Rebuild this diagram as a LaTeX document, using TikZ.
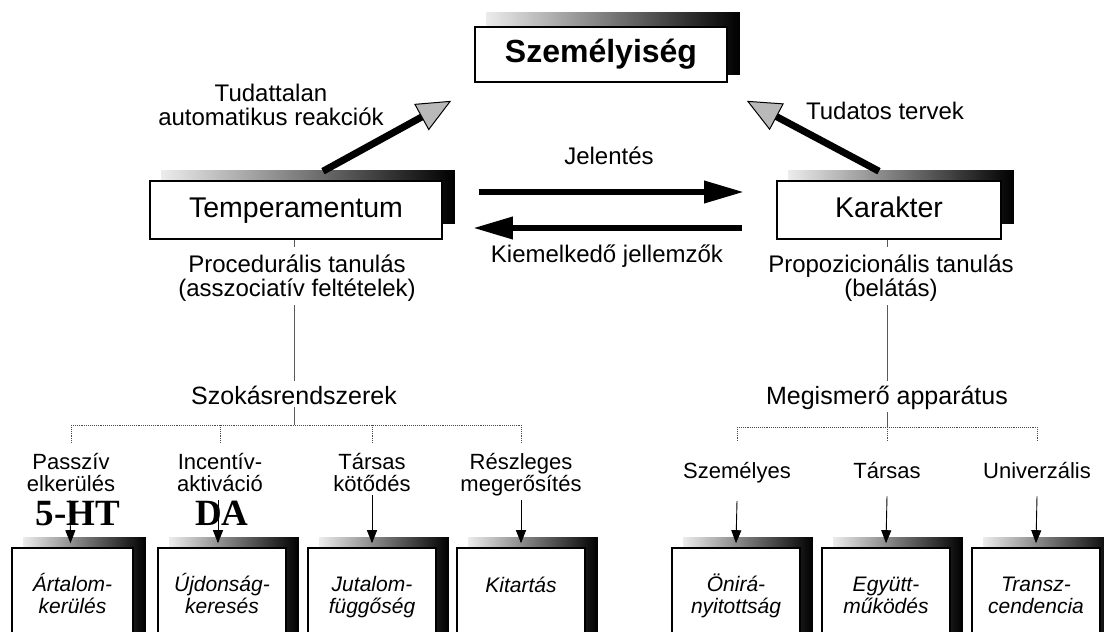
\documentclass[tikz,border=0pt]{standalone}
\usepackage{fontspec}
\setmainfont{Liberation Sans}
\newfontfamily\serifb{Liberation Serif}
\usetikzlibrary{arrows.meta,backgrounds}
\begin{document}
\begin{tikzpicture}[x=1pt,y=-1pt,
  box/.style={draw,line width=1.6pt,fill=white,inner sep=0pt},
  smallbox/.style={box,minimum width=128pt,minimum height=100pt},
  boxtext/.style={font=\fontsize{21}{21.5}\selectfont\itshape,align=center,anchor=base,inner sep=0pt},
  lbl/.style={font=\fontsize{24}{23.5}\selectfont,align=center,anchor=base,inner sep=0pt},
  head/.style={font=\fontsize{25}{26}\selectfont,align=center,anchor=base,inner sep=0pt},
  sublbl/.style={font=\fontsize{22}{22}\selectfont,align=center,anchor=base,inner sep=0pt},
  nt/.style={font=\fontsize{37}{37}\selectfont\serifb\bfseries,anchor=base,inner sep=0pt},
  shadowfill/.style={left color=gray!15,right color=black},
  bigarrow/.style={line width=7pt,-{Triangle[length=34pt,width=30pt,line width=1pt,fill=gray!55]}},
  flatarrow/.style={line width=6.5pt,-{Triangle[length=40pt,width=21pt]}},
  thinline/.style={line width=0.8pt,gray!70!black},
  dotline/.style={line width=0.9pt,densely dotted,gray!60!black},
  downarrow/.style={line width=0.9pt,-{Triangle[length=13pt,width=10pt]}}
]
\useasboundingbox (0,0) rectangle (1104,632);
\clip (0,0) rectangle (1104,632);

% main boxes
\node[box,minimum width=252pt,minimum height=55pt,font=\fontsize{32}{36}\selectfont\bfseries] (pers) at (601,54.5) {Személyiség};
\node[box,minimum width=292pt,minimum height=58pt,font=\fontsize{28.5}{34}\selectfont,text height=20pt,text depth=6pt] (temp) at (296,210) {Temperamentum};
\node[box,minimum width=224pt,minimum height=58pt,font=\fontsize{28.5}{34}\selectfont,text height=20pt,text depth=6pt] (kar) at (889,210) {Karakter};

% bottom boxes
\node[smallbox,minimum width=121pt] (b1) at (72.5,598) {};
\node[smallbox] (b2) at (222,598) {};
\node[smallbox] (b3) at (372,598) {};
\node[smallbox] (b4) at (521,598) {};
\node[smallbox] (b5) at (736,598) {};
\node[smallbox] (b6) at (886,598) {};
\node[smallbox] (b7) at (1036,598) {};

\node[boxtext] (t1) at (72.5,613) {Ártalom-\\kerülés};
\node[boxtext] (t2) at (222,613) {Újdonság-\\keresés};
\node[boxtext] (t3) at (372,613) {Jutalom-\\függőség};
\node[boxtext] (t4) at (521,592) {Kitartás};
\node[boxtext] (t5) at (736,613) {Önirá-\\nyitottság};
\node[boxtext] (t6) at (886,613) {Együtt-\\működés};
\node[boxtext] (t7) at (1036,613) {Transz-\\cendencia};

% shadows
\begin{scope}[on background layer]
  \shade[shadowfill] ([xshift=12pt,yshift=14pt]pers.north west) rectangle ([xshift=12pt,yshift=8pt]pers.south east);
  \shade[shadowfill] ([xshift=12pt,yshift=10pt]temp.north west) rectangle ([xshift=12pt,yshift=16pt]temp.south east);
  \shade[shadowfill] ([xshift=12pt,yshift=10pt]kar.north west) rectangle ([xshift=12pt,yshift=16pt]kar.south east);
  \foreach \b in {b1,b2,b3,b4,b5,b6,b7}{
    \shade[shadowfill] ([xshift=12pt,yshift=10pt]\b.north west) rectangle ([xshift=12pt,yshift=12pt]\b.south east);
  }
\end{scope}

% labels (base = last line)
\node[lbl] (tud) at (271,125) {Tudattalan\\automatikus reakciók};
\node[lbl] (tudt) at (885,119) {Tudatos tervek};
\node[lbl] (jel) at (609,164) {Jelentés};
\node[lbl] (kiem) at (607,262) {Kiemelkedő jellemzők};
\node[lbl] (proc) at (297,296) {Procedurális tanulás\\(asszociatív feltételek)};
\node[lbl] (prop) at (891,296) {Propozicionális tanulás\\(belátás)};
\node[head] (szok) at (294,404) {Szokásrendszerek};
\node[head] (megi) at (887,404) {Megismerő apparátus};

\node[sublbl] (l1) at (71,491) {Passzív\\elkerülés};
\node[sublbl] (l2) at (220,491) {Incentív-\\aktiváció};
\node[sublbl] (l3) at (372,491) {Társas\\kötődés};
\node[sublbl] (l4) at (521,491) {Részleges\\megerősítés};
\node[sublbl] (r1) at (737,478) {Személyes};
\node[sublbl] (r2) at (887,478) {Társas};
\node[sublbl] (r3) at (1037,478) {Univerzális};

\node[nt] (ht) at (78,525) {5-HT};
\node[nt] (da) at (222,525) {DA};

% big arrows
\draw[bigarrow] ([xshift=27pt,yshift=9pt]temp.north) -- ([xshift=-23pt,yshift=-18pt]pers.south west);
\draw[bigarrow] ([xshift=-10pt,yshift=9pt]kar.north) -- ([xshift=19pt,yshift=-18pt]pers.south east);
\draw[flatarrow] ([xshift=36pt,yshift=18pt]temp.east) -- ([xshift=-32pt,yshift=18pt]kar.west);
\draw[flatarrow] ([xshift=-34pt,yshift=-18pt]kar.west) -- ([xshift=30pt,yshift=-18pt]temp.east);

% stems left
\draw[thinline] (temp.south -| szok.north) -- ++(0,7);
\draw[thinline] (szok.north |- 0,305) -- ([yshift=4pt]szok.north);
\draw[thinline] ([yshift=-3pt]szok.south) -- (szok.south |- 0,425) coordinate (lj);
\draw[dotline] (lj -| l1) -- (lj -| l4);
\foreach \l in {l1,l2,l3,l4}{
  \draw[dotline] (lj -| \l) -- ++(0,18);
}
% stems right
\draw[thinline] (kar.south -| megi.north) -- ++(0,7);
\draw[thinline] (megi.north |- 0,305) -- ([yshift=4pt]megi.north);
\draw[thinline] ([yshift=-3pt]megi.south) -- (megi.south |- 0,427) coordinate (rj);
\draw[dotline] (rj -| r1) -- (rj -| r3);
\foreach \l in {r1,r2,r3}{
  \draw[dotline] (rj -| \l) -- ++(0,15);
}

% down arrows
\draw[downarrow] (70,500) -- ([xshift=-2pt,yshift=4pt]b1.north);
\draw[downarrow] (218,500) -- ([xshift=-4pt,yshift=4pt]b2.north);
\draw[downarrow] ([yshift=-4pt]l3.south) -- ([yshift=4pt]b3.north);
\draw[downarrow] ([yshift=-4pt]l4.south) -- ([yshift=4pt]b4.north);
\draw[downarrow] ([yshift=-18pt]r1.south) -- ([yshift=4pt]b5.north);
\draw[downarrow] ([yshift=-18pt]r2.south) -- ([yshift=4pt]b6.north);
\draw[downarrow] ([yshift=-18pt]r3.south) -- ([yshift=4pt]b7.north);
\end{tikzpicture}
\end{document}
